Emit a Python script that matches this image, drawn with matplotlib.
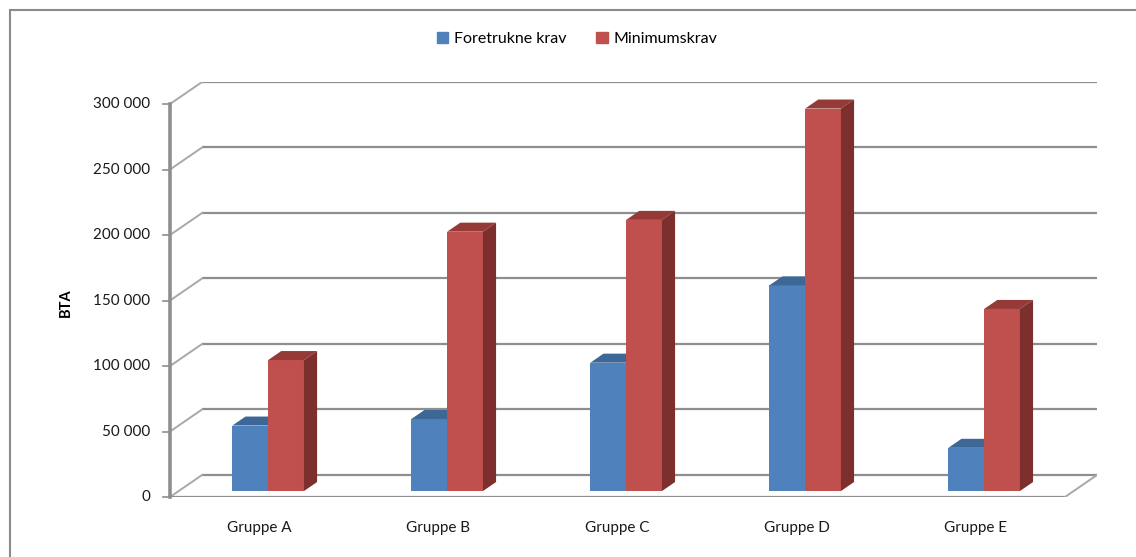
import matplotlib
matplotlib.use("Agg")
import matplotlib.pyplot as plt
from matplotlib.patches import Polygon, Rectangle

plt.rcParams['font.family'] = ['Lato', 'DejaVu Sans']

# data
grupper = ["Gruppe A", "Gruppe B", "Gruppe C", "Gruppe D", "Gruppe E"]
foretrukne = [50000, 55000, 98000, 157000, 33000]
minimum = [100000, 198000, 207000, 292000, 139000]
serier = ["Foretrukne krav", "Minimumskrav"]
yticks = [0, 50000, 100000, 150000, 200000, 250000, 300000]
ymax = 300000

# colours: front, top, side
blue = ("#4F81BD", "#3C6796", "#2F5277")
red = ("#C0504D", "#963A37", "#7C2F2D")
grid_c = "#8E8E8E"

# fake 3d depth offsets (data units)
DX = 0.179          # category units
DY = 16800          # value units
bar_front = 0.27    # depth fraction of bar front face
bar_depth = 0.41    # depth fraction taken by bars
w = 0.2

fig = plt.figure(figsize=(11.36, 5.57), dpi=100)
fig.patches.append(Rectangle((10 / 1136, -0.1), 1.2, (557 - 10) / 557 + 0.1,
                             transform=fig.transFigure, fill=False,
                             edgecolor="#8A8A8A", linewidth=1.5))

ax = fig.add_axes([170 / 1136, (557 - 497) / 557, 927 / 1136, 415 / 557])
ax.set_xlim(-0.5, 4.5 + DX)
ax.set_ylim(0, ymax + DY)
ax.axis("off")

x0, x1 = -0.5, len(grupper) - 0.5

# back wall gridlines and left wall diagonals
for v in yticks:
    ax.plot([x0 + DX, x1 + DX], [v + DY, v + DY], color=grid_c, lw=1.6,
            solid_capstyle="butt", zorder=1)
    ax.plot([x0, x0 + DX], [v, v + DY], color="#A8A8A8", lw=1.4, zorder=1)
    # tick mark on the front axis
    ax.plot([x0 - 0.04, x0], [v, v], color=grid_c, lw=1.2, clip_on=False, zorder=2)
    ax.text(x0 - 0.11, v, f"{v:,}".replace(",", " "), ha="right", va="center",
            fontsize=11, color="#1A1A1A", clip_on=False)

# floor front edge and right diagonal
ax.plot([x0, x1], [0, 0], color=grid_c, lw=1.6, solid_capstyle="butt", zorder=1)
ax.plot([x1, x1 + DX], [0, DY], color="#A8A8A8", lw=1.4, zorder=1)
# front value axis
ax.plot([x0, x0], [0, ymax], color=grid_c, lw=2.6, clip_on=False, zorder=2)

bx = bar_front * DX
by = bar_front * DY
ddx = bar_depth * DX
ddy = bar_depth * DY


def draw_bar(xl, val, cols, z):
    xr = xl + w
    top = val + by
    ax.bar(xl, val, width=w, bottom=by, align="edge", color=cols[0],
           linewidth=0, zorder=z)
    ax.add_patch(Polygon([(xl, top), (xr, top), (xr + ddx, top + ddy),
                          (xl + ddx, top + ddy)], closed=True,
                         facecolor=cols[1], edgecolor="none", zorder=z))
    ax.add_patch(Polygon([(xr, by), (xr + ddx, by + ddy), (xr + ddx, top + ddy),
                          (xr, top)], closed=True,
                         facecolor=cols[2], edgecolor="none", zorder=z))


for i in range(len(grupper)):
    draw_bar(i - w + bx, foretrukne[i], blue, 3 + 2 * i)
    draw_bar(i + bx, minimum[i], red, 4 + 2 * i)
    ax.text(i, -ymax * 0.078, grupper[i], ha="center", va="center",
            fontsize=11, color="#1A1A1A", clip_on=False)

ax.text(x0 - 0.58, ymax / 2 - 2000, "BTA", rotation=90, ha="center", va="center",
        fontsize=10.5, fontweight="bold", clip_on=False)

# legend
handles = [Rectangle((0, 0), 1, 1, color=blue[0]), Rectangle((0, 0), 1, 1, color=red[0])]
fig.legend(handles, serier, loc="center", bbox_to_anchor=(577 / 1136, 1 - 39 / 557),
           ncol=2, frameon=False, fontsize=11.5, handlelength=0.7, handleheight=0.7,
           handletextpad=0.35, columnspacing=1.9)

fig.savefig("out.png", dpi=100)
